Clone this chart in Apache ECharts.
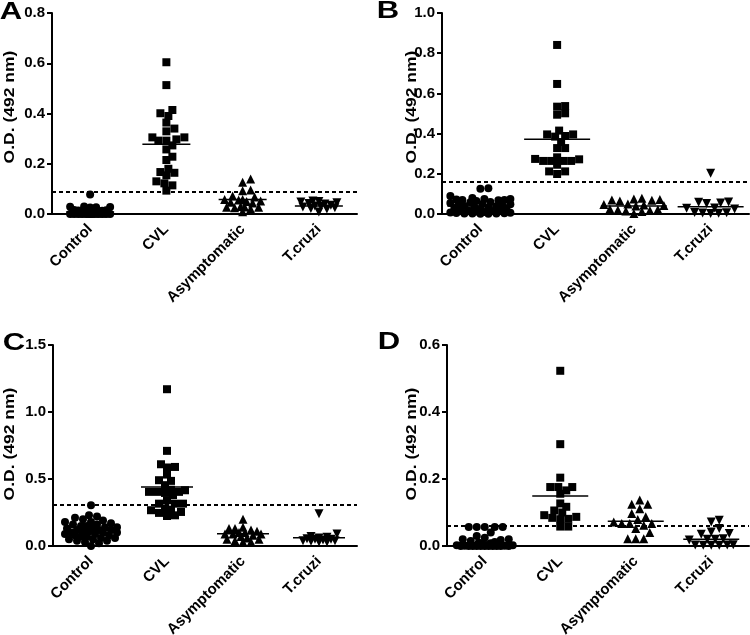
<!DOCTYPE html>
<html>
<head>
<meta charset="utf-8">
<script src="https://cdn.jsdelivr.net/npm/echarts@6/dist/echarts.min.js"></script>
<style>html,body{margin:0;padding:0;background:#fff}#chart{width:750px;height:635px}</style>
</head>
<body>
<div id="chart"></div>
<script>
// ---------------- DATA ----------------
const categories = ['Control', 'CVL', 'Asymptomatic', 'T.cruzi'];
const panelLabels = ['A', 'B', 'C', 'D'];
const yAxisTitle = 'O.D. (492 nm)';
const yMax = [0.8, 1.0, 1.5, 0.6];
const yInterval = [0.2, 0.2, 0.5, 0.2];
const cutoffs = [0.087, 0.163, 0.31, 0.058];

// Panel A
const aControl = [0.078, 0.030, 0.029, 0.028, 0.027, 0.026, 0.016, 0.015, 0.014, 0.013, 0.012,
  0.004, 0.004, 0.003, 0.003, 0.003, 0.002, 0.002, 0.002, 0.002, 0.001, 0.001, 0.001, 0.001, 0.001,
  0.000, 0.000, 0.000, 0.000, 0.000, 0.000, 0.000, 0.000, 0.000, 0.000, 0.000, 0.000, 0.000];
const aCVL = [0.604, 0.513, 0.414, 0.401, 0.390, 0.364, 0.340, 0.329, 0.305, 0.305, 0.297, 0.292, 0.292,
  0.273, 0.257, 0.228, 0.215, 0.180, 0.167, 0.164, 0.154, 0.130, 0.122, 0.114, 0.093];
const aAsymptomatic = [0.139, 0.126, 0.096, 0.093, 0.072, 0.068, 0.058, 0.056, 0.058, 0.050, 0.047,
  0.044, 0.052, 0.030, 0.028, 0.027, 0.025, 0.027, 0.020, 0.009];
const aTcruzi = [0.052, 0.050, 0.048, 0.045, 0.042, 0.040, 0.035, 0.032, 0.030, 0.028, 0.025, 0.022, 0.020, 0.008];
const aMeans = [0.008, 0.278, 0.058, 0.032];

// Panel B
const bControl = [0.128, 0.126, 0.090, 0.080, 0.075, 0.075, 0.072, 0.070, 0.070, 0.068, 0.065, 0.060,
  0.058, 0.055, 0.050, 0.048, 0.045, 0.042, 0.040, 0.038, 0.035, 0.032, 0.030, 0.028, 0.025, 0.022,
  0.020, 0.018, 0.015, 0.012, 0.010, 0.008, 0.006, 0.005, 0.004, 0.003, 0.002, 0.002, 0.001, 0.001];
const bCVL = [0.841, 0.647, 0.534, 0.537, 0.494, 0.501, 0.396, 0.388, 0.385, 0.396, 0.415, 0.358, 0.328,
  0.328, 0.282, 0.272, 0.274, 0.264, 0.245, 0.264, 0.264, 0.264, 0.212, 0.199, 0.212];
const bAsymptomatic = [0.078, 0.075, 0.072, 0.070, 0.068, 0.065, 0.050, 0.047, 0.045, 0.042, 0.040,
  0.025, 0.022, 0.020, 0.018, 0.015, 0.012, 0.002];
const bTcruzi = [0.203, 0.060, 0.058, 0.055, 0.052, 0.030, 0.028, 0.025, 0.008, 0.006, 0.005, 0.004, 0.003];
const bMeans = [0.040, 0.372, 0.040, 0.036];

// Panel C
const cControl = [0.305, 0.230, 0.220, 0.210, 0.200, 0.190, 0.180, 0.180, 0.170, 0.160, 0.160, 0.150,
  0.150, 0.140, 0.140, 0.130, 0.130, 0.120, 0.120, 0.120, 0.110, 0.110, 0.100, 0.100, 0.100, 0.090,
  0.090, 0.080, 0.080, 0.070, 0.070, 0.060, 0.060, 0.050, 0.050, 0.040, 0.040, 0.030, 0.020, 0.000];
const cCVL = [1.170, 0.710, 0.610, 0.586, 0.590, 0.533, 0.491, 0.486, 0.454, 0.420, 0.404, 0.404, 0.396,
  0.416, 0.404, 0.380, 0.341, 0.316, 0.316, 0.316, 0.272, 0.280, 0.267, 0.229, 0.224, 0.247, 0.254];
const cAsymptomatic = [0.200, 0.140, 0.130, 0.130, 0.120, 0.110, 0.100, 0.100, 0.090, 0.090, 0.090,
  0.080, 0.070, 0.060, 0.050, 0.050, 0.040, 0.030, 0.030];
const cTcruzi = [0.240, 0.090, 0.070, 0.065, 0.060, 0.055, 0.050, 0.050, 0.045, 0.040, 0.040, 0.035, 0.030, 0.030];
const cMeans = [0.117, 0.441, 0.092, 0.061];

// Panel D
const dControl = [0.057, 0.057, 0.057, 0.057, 0.057, 0.040, 0.030, 0.025, 0.020, 0.020, 0.018, 0.015,
  0.012, 0.010, 0.008, 0.005, 0.003, 0.002, 0.002, 0.001, 0.001, 0.000, 0.000, 0.000, 0.000, 0.000,
  0.000, 0.000, 0.000, 0.000, 0.000, 0.000];
const dCVL = [0.523, 0.304, 0.204, 0.176, 0.166, 0.176, 0.176, 0.156, 0.117, 0.127, 0.106, 0.100, 0.084,
  0.080, 0.092, 0.087, 0.081, 0.058, 0.058];
const dAsymptomatic = [0.137, 0.125, 0.125, 0.111, 0.097, 0.087, 0.079, 0.072, 0.067, 0.067, 0.067,
  0.062, 0.052, 0.040, 0.022, 0.022, 0.022];
const dTcruzi = [0.077, 0.072, 0.052, 0.042, 0.037, 0.035, 0.022, 0.020, 0.020, 0.018, 0.004, 0.003,
  0.003, 0.002, 0.002, 0.002];
const dMeans = [0.010, 0.149, 0.074, 0.020];

const panelGroups = [
  [aControl, aCVL, aAsymptomatic, aTcruzi],
  [bControl, bCVL, bAsymptomatic, bTcruzi],
  [cControl, cCVL, cAsymptomatic, cTcruzi],
  [dControl, dCVL, dAsymptomatic, dTcruzi]
];
const panelMeans = [aMeans, bMeans, cMeans, dMeans];

// ---------------- LAYOUT / STYLE ----------------
const FONT = '"Liberation Sans", Arial, Helvetica, sans-serif';
const grids = [
  { left: 52, top: 13, width: 305, height: 201 },
  { left: 442, top: 13, width: 307, height: 201 },
  { left: 53, top: 345, width: 304, height: 201 },
  { left: 447, top: 345, width: 302, height: 201 }
];
const letterPos = [[11, 13], [388, 12], [14, 344], [389, 343]];
const titlePos = [[10, 107], [412, 107], [10, 444], [412, 444]];
const controlHalf = [20, 31, 26, 29];      // max horizontal spread (px) of control columns
const otherHalf = [19, 30, 19, 22];        // max horizontal spread (px) of other columns
const meanHalf = [24, 33, 26, 28];         // half-length of mean lines (px)
const symbols = ['circle', 'rect', 'triangle', 'triangle'];
const symbolRot = [0, 0, 0, 180];
const symbolSizes = [8, 8, 9, 9];

// deterministic beeswarm: offsets in px
function swarm(values, pxPerUnit, D, half) {
  const step = 2;
  const cands = [0];
  for (let k = 1; k * step <= half; k++) { cands.push(k * step, -k * step); }
  const order = values.map((v, i) => i).sort((a, b) => values[a] - values[b]);
  const placed = [];
  const off = new Array(values.length).fill(0);
  for (const i of order) {
    const y = values[i] * pxPerUnit;
    let chosen = null, bestX = 0, bestMd = -1;
    for (const x of cands) {
      let md = Infinity;
      for (const p of placed) {
        const d = Math.hypot(p.x - x, p.y - y);
        if (d < md) md = d;
      }
      if (md >= D) { chosen = x; break; }
      if (md > bestMd + 0.3) { bestMd = md; bestX = x; }
    }
    if (chosen === null) chosen = bestX;
    placed.push({ x: chosen, y: y });
    off[i] = chosen;
  }
  return off;
}

const option = {
  animation: false,
  backgroundColor: '#fff',
  grid: [], xAxis: [], yAxis: [], series: [], graphic: []
};

for (let p = 0; p < 4; p++) {
  const g = grids[p];
  option.grid.push(Object.assign({ containLabel: false, outerBoundsMode: 'none' }, g));
  option.xAxis.push({
    type: 'category', gridIndex: p, data: categories, boundaryGap: true,
    axisLine: { show: true, onZero: false, lineStyle: { color: '#000', width: 2 } },
    axisTick: { show: false },
    axisLabel: { interval: 0, rotate: 45, margin: 13, color: '#000', fontWeight: 'bold', fontSize: 15, fontFamily: FONT },
    splitLine: { show: false }
  });
  option.xAxis.push({
    type: 'value', gridIndex: p, min: -0.5, max: 3.5, show: false
  });
  option.yAxis.push({
    type: 'value', gridIndex: p, min: 0, max: yMax[p], interval: yInterval[p],
    axisLine: { show: true, onZero: false, lineStyle: { color: '#000', width: 2 } },
    axisTick: { show: true, length: 5, lineStyle: { color: '#000', width: 2 } },
    axisLabel: { margin: 7, color: '#000', fontWeight: 'bold', fontSize: 15, fontFamily: FONT,
      formatter: v => v.toFixed(1) },
    splitLine: { show: false }
  });
  const pxPerUnit = g.height / yMax[p];
  const band = g.width / 4;
  const valueAxisIdx = p * 2 + 1;
  for (let c = 0; c < 4; c++) {
    const vals = panelGroups[p][c];
    const half = c === 0 ? controlHalf[p] : otherHalf[p];
    const off = swarm(vals, pxPerUnit, symbolSizes[c] * 0.85, half);
    const s = {
      type: 'scatter', xAxisIndex: valueAxisIdx, yAxisIndex: p,
      symbol: symbols[c], symbolRotate: symbolRot[c], symbolSize: symbolSizes[c],
      itemStyle: { color: '#000', opacity: 1 }, clip: false, z: 3, silent: true,
      data: vals.map((v, i) => [c + off[i] / band, v])
    };
    if (c === 0) {
      s.markLine = {
        silent: true, symbol: 'none', label: { show: false }, animation: false,
        lineStyle: { color: '#000', width: 2, type: [4, 3] },
        data: [{ yAxis: cutoffs[p] }]
      };
    }
    option.series.push(s);
  }
  const hw = meanHalf[p];
  option.series.push({
    type: 'custom', xAxisIndex: valueAxisIdx, yAxisIndex: p, z: 4, silent: true,
    data: panelMeans[p].map((m, c) => [c, m]),
    renderItem: function (params, api) {
      const pt = api.coord([api.value(0), api.value(1)]);
      return { type: 'line', shape: { x1: pt[0] - hw, y1: pt[1], x2: pt[0] + hw, y2: pt[1] },
        style: { stroke: '#000', lineWidth: 1.5 } };
    }
  });
  option.graphic.push({
    type: 'text', x: letterPos[p][0], y: letterPos[p][1], scaleX: 1.35,
    style: { text: panelLabels[p], font: 'bold 23px ' + FONT, fill: '#000', align: 'center', verticalAlign: 'middle' }
  });
  option.graphic.push({
    type: 'text', x: titlePos[p][0], y: titlePos[p][1], rotation: Math.PI / 2, scaleX: 1.25,
    style: { text: yAxisTitle, font: 'bold 14px ' + FONT, fill: '#000', align: 'center', verticalAlign: 'middle' }
  });
}

const chart = echarts.init(document.getElementById('chart'), null, { renderer: 'canvas' });
chart.setOption(option);
</script>
</body>
</html>
